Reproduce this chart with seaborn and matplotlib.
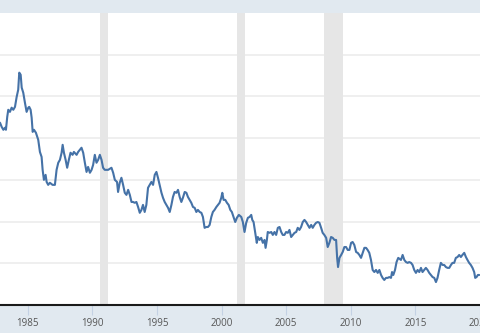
import matplotlib
matplotlib.use("Agg")
import matplotlib.pyplot as plt
import seaborn as sns
import pandas as pd

years = [
    1982.84, 1982.97, 1983.10, 1983.23, 1983.30, 1983.40, 1983.48, 1983.61, 1983.74, 1983.87,
    1984.00, 1984.13, 1984.25, 1984.33, 1984.44, 1984.52, 1984.64, 1984.77, 1984.90, 1985.03,
    1985.10, 1985.21, 1985.29, 1985.37, 1985.47, 1985.62, 1985.80, 1985.93, 1986.06, 1986.14,
    1986.24, 1986.37, 1986.45, 1986.57, 1986.70, 1986.91, 1987.09, 1987.22, 1987.35, 1987.48,
    1987.61, 1987.69, 1987.79, 1987.92, 1988.04, 1988.17, 1988.30, 1988.46, 1988.56, 1988.77,
    1988.89, 1989.02, 1989.15, 1989.28, 1989.41, 1989.54, 1989.66, 1989.80, 1989.93, 1990.05,
    1990.18, 1990.31, 1990.44, 1990.57, 1990.70, 1990.82, 1990.95, 1991.21, 1991.47, 1991.60,
    1991.73, 1991.90, 1991.98, 1992.11, 1992.24, 1992.37, 1992.50, 1992.63, 1992.76, 1992.89,
    1993.02, 1993.14, 1993.27, 1993.40, 1993.53, 1993.66, 1993.79, 1993.91, 1994.04, 1994.17,
    1994.30, 1994.43, 1994.56, 1994.69, 1994.82, 1994.95, 1995.07, 1995.20, 1995.34, 1995.46,
    1995.59, 1995.72, 1995.85, 1995.98, 1996.11, 1996.23, 1996.36, 1996.50, 1996.62, 1996.75,
    1996.88, 1997.00, 1997.14, 1997.27, 1997.39, 1997.52, 1997.65, 1997.78, 1997.91, 1998.04,
    1998.16, 1998.30, 1998.43, 1998.55, 1998.68, 1998.81, 1998.94, 1999.07, 1999.20, 1999.32,
    1999.45, 1999.59, 1999.71, 1999.84, 1999.97, 2000.05, 2000.15, 2000.28, 2000.41, 2000.54,
    2000.67, 2000.79, 2000.92, 2001.05, 2001.18, 2001.33, 2001.52, 2001.64, 2001.77, 2001.90,
    2002.03, 2002.16, 2002.29, 2002.37, 2002.47, 2002.60, 2002.72, 2002.80, 2002.93, 2003.06,
    2003.19, 2003.32, 2003.40, 2003.50, 2003.57, 2003.71, 2003.84, 2003.96, 2004.09, 2004.22,
    2004.35, 2004.48, 2004.61, 2004.73, 2004.86, 2004.99, 2005.12, 2005.25, 2005.38, 2005.51,
    2005.64, 2005.77, 2005.89, 2006.02, 2006.15, 2006.28, 2006.41, 2006.54, 2006.67, 2006.80,
    2006.93, 2007.05, 2007.18, 2007.31, 2007.44, 2007.57, 2007.70, 2007.82, 2007.95, 2008.09,
    2008.21, 2008.34, 2008.47, 2008.60, 2008.73, 2008.86, 2008.94, 2009.01, 2009.12, 2009.25,
    2009.37, 2009.50, 2009.63, 2009.76, 2009.89, 2010.02, 2010.14, 2010.27, 2010.41, 2010.53,
    2010.66, 2010.79, 2010.92, 2011.05, 2011.18, 2011.30, 2011.43, 2011.56, 2011.69, 2011.82,
    2011.95, 2012.08, 2012.21, 2012.34, 2012.46, 2012.59, 2012.72, 2012.85, 2012.98, 2013.11,
    2013.19, 2013.29, 2013.42, 2013.54, 2013.67, 2013.88, 2014.01, 2014.14, 2014.27, 2014.40,
    2014.52, 2014.66, 2014.78, 2014.91, 2015.04, 2015.17, 2015.30, 2015.43, 2015.55, 2015.68,
    2015.81, 2015.94, 2016.07, 2016.20, 2016.33, 2016.46, 2016.59, 2016.71, 2016.84, 2016.97,
    2017.10, 2017.23, 2017.36, 2017.49, 2017.62, 2017.75, 2017.87, 2018.00, 2018.13, 2018.26,
    2018.39, 2018.52, 2018.64, 2018.78, 2018.91, 2019.03, 2019.16, 2019.29, 2019.42, 2019.55,
    2019.63, 2019.73, 2019.84, 2019.94,
]

values = [
    10.74, 10.54, 10.40, 10.50, 10.40, 11.02, 11.36, 11.26, 11.46, 11.36,
    11.50, 11.98, 12.32, 13.14, 13.04, 12.42, 12.18, 11.70, 11.26, 11.46,
    11.50, 11.36, 10.98, 10.30, 10.40, 10.26, 9.92, 9.34, 9.10, 8.48,
    8.00, 8.24, 7.90, 7.76, 7.86, 7.76, 7.76, 8.48, 8.82, 8.96,
    9.30, 9.68, 9.30, 8.96, 8.58, 8.96, 9.30, 9.20, 9.34, 9.20,
    9.34, 9.44, 9.54, 9.30, 8.82, 8.38, 8.62, 8.34, 8.48, 8.72,
    9.20, 8.82, 8.96, 9.20, 8.96, 8.58, 8.48, 8.48, 8.58, 8.34,
    8.00, 7.90, 7.42, 7.86, 8.10, 7.76, 7.38, 7.28, 7.52, 7.28,
    6.94, 6.94, 6.90, 6.94, 6.70, 6.42, 6.56, 6.80, 6.46, 6.80,
    7.62, 7.76, 7.90, 7.76, 8.24, 8.38, 8.10, 7.76, 7.38, 7.14,
    6.94, 6.80, 6.66, 6.46, 6.80, 7.18, 7.42, 7.38, 7.52, 7.18,
    6.94, 7.14, 7.42, 7.38, 7.18, 7.04, 6.90, 6.70, 6.66, 6.46,
    6.56, 6.46, 6.42, 6.22, 5.70, 5.74, 5.74, 5.84, 6.22, 6.46,
    6.56, 6.70, 6.80, 6.90, 7.14, 7.38, 7.04, 7.04, 6.90, 6.80,
    6.56, 6.46, 6.22, 5.98, 6.18, 6.32, 6.22, 5.98, 5.50, 5.94,
    6.18, 6.22, 6.32, 6.08, 5.98, 5.46, 4.98, 5.26, 5.12, 5.22,
    4.98, 5.12, 4.74, 5.12, 5.50, 5.46, 5.50, 5.36, 5.50, 5.36,
    5.70, 5.74, 5.50, 5.36, 5.36, 5.50, 5.46, 5.60, 5.26, 5.36,
    5.46, 5.50, 5.70, 5.60, 5.74, 5.98, 6.08, 5.98, 5.84, 5.70,
    5.84, 5.70, 5.84, 5.94, 5.98, 5.94, 5.70, 5.46, 5.36, 5.22,
    4.78, 4.98, 5.26, 5.22, 5.12, 5.12, 4.26, 3.82, 4.26, 4.40,
    4.54, 4.78, 4.78, 4.64, 4.64, 4.98, 5.02, 4.88, 4.54, 4.50,
    4.40, 4.26, 4.50, 4.74, 4.74, 4.64, 4.50, 4.16, 3.68, 3.58,
    3.68, 3.54, 3.68, 3.44, 3.30, 3.20, 3.30, 3.30, 3.34, 3.30,
    3.58, 3.44, 3.68, 4.06, 4.26, 4.16, 4.40, 4.16, 4.06, 4.02,
    4.06, 4.02, 3.92, 3.68, 3.54, 3.68, 3.58, 3.78, 3.58, 3.68,
    3.78, 3.68, 3.54, 3.44, 3.34, 3.30, 3.10, 3.30, 3.68, 4.02,
    3.92, 3.92, 3.82, 3.78, 3.78, 3.92, 4.02, 4.02, 4.26, 4.30,
    4.40, 4.30, 4.40, 4.50, 4.30, 4.16, 4.02, 3.92, 3.78, 3.58,
    3.30, 3.34, 3.44, 3.44,
]

recession_starts = [1990.58, 2001.17, 2007.92]
recession_ends = [1991.17, 2001.83, 2009.42]
tick_years = [1985, 1990, 1995, 2000, 2005, 2010, 2015, 2020]
grid_values = [4, 6, 8, 10, 12, 14]

sns.set_theme(style="white")
plt.rcParams['font.family'] = ['Open Sans', 'DejaVu Sans']

fig = plt.figure(figsize=(4.8, 3.33), dpi=100)
fig.patch.set_facecolor('#e1e9f0')
ax = fig.add_axes([0, 28 / 333, 1, 292 / 333])
ax.set_facecolor('white')
ax.set_axisbelow(True)

for a, b in zip(recession_starts, recession_ends):
    ax.axvspan(a, b, color='#e6e6e6', lw=0, zorder=1)

df = pd.DataFrame({'year': years, 'value': values})
sns.lineplot(data=df, x='year', y='value', ax=ax, color='#4572a7', lw=1.5, zorder=3)

ax.set_xlim(1982.84, 2019.94)
ax.set_ylim(2, 16)
ax.set_yticks(grid_values)
ax.yaxis.grid(True, color='#ececec', lw=1.2, zorder=0)
ax.xaxis.grid(False)
ax.set_yticklabels([])
ax.tick_params(axis='y', length=0)

ax.set_xticks(tick_years)
ax.set_xticklabels([str(t) for t in tick_years])
ax.tick_params(axis='x', length=7, width=0.8, color='#c4d2e4', pad=2,
               labelsize=7, labelcolor='#555555', direction='out', bottom=True)
for s in ['left', 'right', 'top']:
    ax.spines[s].set_visible(False)
ax.spines['bottom'].set_color('#1a1a1a')
ax.spines['bottom'].set_linewidth(1.5)
ax.set_xlabel('')
ax.set_ylabel('')

fig.savefig('out.png', dpi=100, facecolor=fig.get_facecolor())
